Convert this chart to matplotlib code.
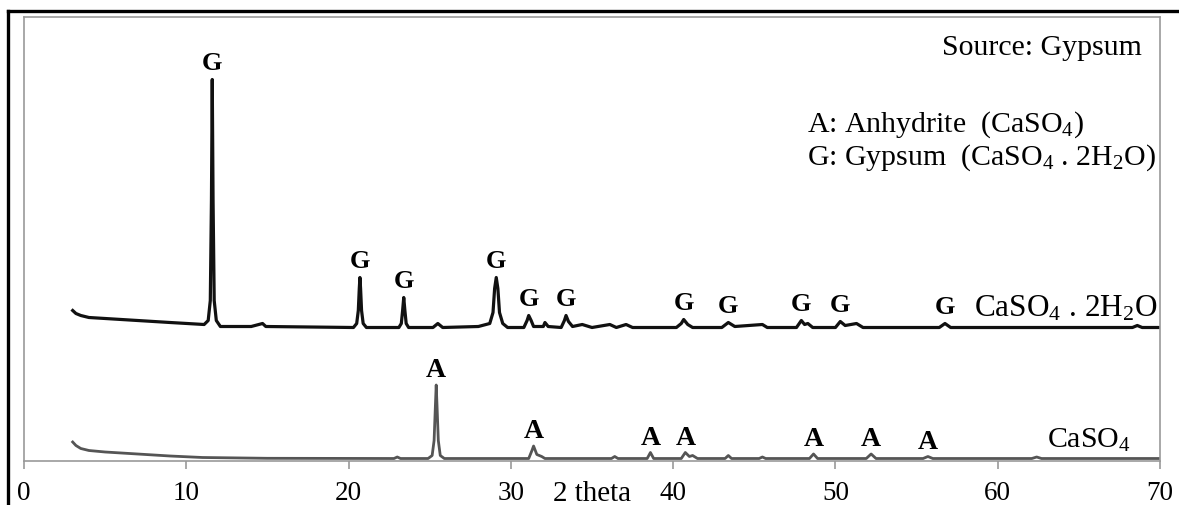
import numpy as np
import matplotlib.pyplot as plt
from matplotlib.lines import Line2D

plt.rcParams["font.family"] = ["Liberation Serif", "DejaVu Serif"]
plt.rcParams["mathtext.fontset"] = "custom"
plt.rcParams["mathtext.rm"] = "Liberation Serif"
plt.rcParams["mathtext.it"] = "Liberation Serif:italic"
plt.rcParams["mathtext.bf"] = "Liberation Serif:bold"

# gypsum (CaSO4 . 2H2O) pattern, offset intensity (a.u.)
gyp_2theta = [3.0, 3.2, 3.5, 4.0, 5.0, 7.0, 9.0, 11.1, 11.35, 11.48, 11.55, 11.6, 11.65, 11.72, 11.85, 12.1,
              14.0, 14.7, 14.9, 20.3, 20.5, 20.6, 20.66, 20.7, 20.74, 20.8, 20.9, 21.1,
              23.1, 23.25, 23.33, 23.4, 23.47, 23.55, 23.7, 25.2, 25.5, 25.8,
              28.0, 28.7, 28.9, 29.0, 29.1, 29.2, 29.3, 29.5, 29.8,
              30.8, 31.0, 31.1, 31.25, 31.4, 32.0, 32.1, 32.3,
              33.1, 33.3, 33.4, 33.55, 33.8, 34.4, 35.0, 36.1, 36.5, 37.1, 37.5,
              40.2, 40.5, 40.65, 40.9, 41.2, 43.0, 43.4, 43.8, 45.5, 45.8,
              47.6, 47.9, 48.1, 48.3, 48.6, 50.0, 50.3, 50.6, 51.3, 51.7,
              56.4, 56.75, 57.1, 68.3, 68.6, 68.9, 70.0]
gyp_int = [150, 147, 145, 143, 142, 140, 138, 136, 140, 160, 260, 381, 260, 160, 140, 134,
           134, 137, 134, 133, 137, 150, 172, 183, 172, 150, 137, 133,
           133, 137, 150, 163, 150, 137, 133, 133, 137, 133,
           134, 137, 148, 172, 183, 172, 148, 137, 133,
           133, 140, 145, 140, 134, 134, 138, 134,
           133, 140, 145, 139, 134, 136, 133, 136, 133, 136, 133,
           133, 137, 141, 136, 133, 133, 138, 134, 136, 133,
           133, 140, 136, 137, 133, 133, 139, 135, 137, 133,
           133, 137, 133, 133, 135, 133, 133]

# anhydrite (CaSO4) pattern
anh_2theta = [3.0, 3.2, 3.5, 4.0, 5.0, 7.0, 9.0, 11.0, 15.0, 22.8, 23.0, 23.2,
              24.9, 25.15, 25.27, 25.35, 25.4, 25.45, 25.53, 25.65, 25.9,
              31.1, 31.3, 31.4, 31.6, 31.9, 32.1, 36.2, 36.4, 36.6,
              38.4, 38.6, 38.8, 40.5, 40.75, 41.0, 41.2, 41.5,
              43.2, 43.4, 43.6, 45.3, 45.5, 45.7, 48.4, 48.65, 48.9,
              51.9, 52.2, 52.5, 55.4, 55.7, 56.0, 62.1, 62.4, 62.7, 70.0]
anh_int = [18.5, 15.0, 12.0, 10.0, 8.5, 6.5, 4.5, 3.0, 2.2, 2.0, 3.5, 2.0,
           2.0, 5.0, 20, 55, 75.5, 55, 20, 5.0, 2.0,
           2.0, 10, 14.5, 6.0, 4.0, 2.0, 2.0, 4.0, 2.0,
           2.0, 8.0, 2.0, 2.0, 8.0, 4.0, 5.0, 2.0,
           2.0, 5.0, 2.0, 2.0, 3.5, 2.0, 2.0, 6.5, 2.0,
           2.0, 6.5, 2.0, 2.0, 4.0, 2.0, 2.0, 3.5, 2.0, 2.0]

# marked reflections
gyp_peaks = [11.6, 20.7, 23.4, 29.1, 31.1, 33.4, 40.65, 43.4, 47.9, 50.3, 56.75]
anh_peaks = [25.4, 31.4, 38.6, 40.75, 48.65, 52.2, 55.7]

W, H = 1179, 506
fig = plt.figure(figsize=(W / 100, H / 100), dpi=100)
ax = fig.add_axes([24 / W, 1 - 461.5 / H, (1160 - 24) / W, (461.5 - 18) / H])

ax.plot(gyp_2theta, gyp_int, color="#111111", lw=2.3, solid_joinstyle="round")
ax.plot(anh_2theta, anh_int, color="#555555", lw=2.0, solid_joinstyle="round")

for x in gyp_peaks:
    y = np.interp(x, gyp_2theta, gyp_int)
    ax.annotate("G", (x, y), xytext=(0, 4), textcoords="offset points",
                ha="center", va="bottom", fontsize=19, fontweight="bold")
for x in anh_peaks:
    y = np.interp(x, anh_2theta, anh_int)
    ax.annotate("A", (x, y), xytext=(0, 2), textcoords="offset points",
                ha="center", va="bottom", fontsize=20, fontweight="bold")

ax.set_xlim(0, 70)
ax.set_ylim(0, 443.5)
ax.set_xticks(range(0, 71, 10))
ax.set_yticks([])
for s in ax.spines.values():
    s.set_color("#999999")
    s.set_linewidth(1.2)
ax.tick_params(axis="x", direction="out", length=6, width=1.2, color="#999999",
               labelsize=19.5, pad=8)

ax.annotate("2 theta", (35.0, 0), xycoords=("data", "axes fraction"),
            xytext=(0, -14), textcoords="offset points", ha="center", va="top", fontsize=21)

ax.text(0.984, 0.932, "Source: Gypsum", transform=ax.transAxes, ha="right", va="center", fontsize=21.5)
ax.text(0.689, 0.759, r"A: Anhydrite  (CaSO$_4$)", transform=ax.transAxes,
        ha="left", va="center", fontsize=21.5)
ax.text(0.689, 0.684, r"G: Gypsum  (CaSO$_4$ . 2H$_2$O)", transform=ax.transAxes,
        ha="left", va="center", fontsize=21.5)
ax.text(0.998, 0.344, r"CaSO$_4$ . 2H$_2$O", transform=ax.transAxes,
        ha="right", va="center", fontsize=22.5)
ax.text(0.974, 0.048, r"CaSO$_4$", transform=ax.transAxes,
        ha="right", va="center", fontsize=21.5)

# outer frame, cut at right and bottom
fig.add_artist(Line2D([8 / W, 8 / W], [1 - 12 / H, 0], transform=fig.transFigure,
                      color="black", lw=2.4))
fig.add_artist(Line2D([8 / W, 1], [1 - 12 / H, 1 - 12 / H], transform=fig.transFigure,
                      color="black", lw=2.4))

fig.savefig("out.png", dpi=100)
